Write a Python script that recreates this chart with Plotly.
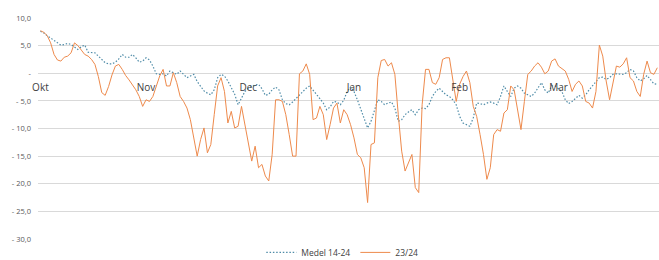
import pandas as pd
import plotly.graph_objects as go

start_date = "2023-10-01"

medel_14_24 = [
    7.6, 7.3, 6.8, 6.4, 6.0, 5.5, 5.1, 5.2, 5.4, 5.2,
    4.7, 4.3, 4.8, 5.1, 3.8, 3.7, 3.7, 3.1, 2.5, 1.9,
    1.7, 1.7, 2.0, 2.6, 3.4, 2.9, 2.9, 3.4, 2.8, 2.0,
    2.2, 2.8, 2.4, 1.3, -0.1, -0.2, -0.1, -0.5, 0.4, 0.1,
    -0.2, 0.4, -0.2, -0.8, -0.5, -0.2, -1.5, -2.3, -3.2, -3.6,
    -3.9, -3.0, -0.8, -0.2, -0.5, -1.4, -2.6, -3.8, -5.7, -4.4,
    -3.3, -2.7, -2.4, -2.1, -2.0, -2.8, -4.0, -3.8, -3.0, -2.5,
    -3.0, -4.8, -5.5, -5.7, -5.2, -4.6, -4.0, -3.3, -2.7, -2.3,
    -3.0, -3.9, -4.6, -5.4, -6.6, -6.1, -5.1, -5.2, -5.7, -4.9,
    -3.3, -2.5, -3.3, -4.8, -6.6, -8.4, -9.9, -8.7, -6.9, -4.8,
    -5.1, -5.7, -5.4, -5.2, -6.3, -8.7, -8.4, -7.5, -7.0, -6.6,
    -7.5, -6.6, -6.3, -6.4, -5.7, -4.2, -3.3, -2.7, -3.3, -3.9,
    -4.2, -4.8, -5.7, -7.8, -9.0, -9.3, -9.6, -8.1, -5.4, -5.5,
    -5.7, -5.4, -5.2, -5.4, -5.7, -4.2, -2.3, -3.3, -4.2, -2.7,
    -2.3, -2.7, -3.6, -3.9, -4.2, -3.6, -2.7, -1.7, -3.0, -3.6,
    -2.3, -2.3, -2.8, -3.3, -4.8, -5.5, -5.1, -4.5, -4.0, -4.5,
    -3.9, -3.0, -2.3, -1.7, -0.8, -0.7, -1.1, -0.8, -0.2, -0.1,
    -0.1, -0.2, 0.1, 0.7, 0.4, -0.8, -1.4, -1.0, -0.4, -1.1,
    -1.9, -2.0,
]

season_23_24 = [
    7.7, 7.4, 6.8, 5.5, 3.4, 2.4, 2.2, 2.9, 3.1, 3.7,
    5.5, 5.0, 4.2, 3.4, 3.1, 2.5, 1.6, -0.6, -3.5, -4.0,
    -2.4, -0.3, 1.3, 1.6, 0.7, -0.4, -1.2, -2.0, -3.0, -4.2,
    -6.0, -4.8, -5.1, -4.2, -2.3, -0.5, 0.7, -2.3, -2.3, 0.1,
    -1.7, -4.2, -5.1, -6.3, -8.4, -11.7, -15.0, -12.0, -9.9, -14.4,
    -12.9, -7.5, -2.3, -0.8, -3.3, -9.0, -6.9, -9.9, -9.6, -6.0,
    -9.3, -12.3, -15.9, -13.2, -17.1, -16.5, -18.6, -19.5, -14.7, -4.8,
    -4.8, -5.1, -7.5, -11.1, -15.0, -15.0, -0.1, 0.4, 1.7, -0.2,
    -8.4, -8.1, -6.0, -7.5, -12.0, -9.3, -6.3, -5.4, -9.0, -6.6,
    -7.5, -9.3, -11.7, -14.7, -15.3, -17.1, -23.4, -12.9, -12.6, -0.8,
    2.3, 2.5, 1.3, 1.9, -0.2, -7.5, -14.1, -17.7, -16.2, -14.7,
    -20.7, -21.6, -5.7, 0.7, 0.7, -1.7, -2.0, -0.8, 2.5, 2.8,
    2.8, -1.5, -5.1, -2.0, -0.6, 0.4, -1.7, -6.0, -7.8, -11.1,
    -14.7, -19.2, -17.1, -11.1, -10.2, -10.5, -7.2, -6.6, -2.3, -3.0,
    -6.9, -10.2, -5.1, -0.2, 0.4, 1.3, 1.9, 1.1, -0.1, 0.4,
    2.2, 2.6, 1.3, 0.8, 0.4, -1.1, -3.3, -2.0, -1.4, -2.3,
    -5.1, -5.4, -6.3, -3.3, 5.1, 3.1, -1.4, -4.8, -1.7, 1.3,
    1.1, 1.7, 2.8, -0.8, -1.4, -3.3, -4.2, -0.2, 2.2, 0.1,
    -0.2, 1.0,
]

month_ticks = ["2023-10-01", "2023-11-01", "2023-12-01", "2024-01-01", "2024-02-01", "2024-03-01"]
month_labels = ["Okt", "Nov", "Dec", "Jan", "Feb", "Mar"]

y_ticks = [10, 5, 0, -5, -10, -15, -20, -25, -30]
y_labels = ["10,0", "5,0", "-", "- 5,0", "- 10,0", "- 15,0", "- 20,0", "- 25,0", "- 30,0"]

dates = pd.date_range(start_date, periods=len(season_23_24), freq="D")

fig = go.Figure()
fig.add_trace(go.Scatter(
    x=dates, y=medel_14_24, mode="lines", name="Medel 14-24",
    line=dict(color="#4F8CA8", width=1.2, dash="1.5px,1.8px"),
))
fig.add_trace(go.Scatter(
    x=dates, y=season_23_24, mode="lines", name="23/24",
    line=dict(color="#EE8A4C", width=1.0),
))

fig.update_layout(
    width=659, height=260,
    margin=dict(l=38, r=0, t=18, b=21, autoexpand=False),
    plot_bgcolor="white", paper_bgcolor="white",
    font=dict(family="Open Sans, Liberation Sans, sans-serif", color="#595959"),
    showlegend=True,
    legend=dict(orientation="h", x=0.49, xanchor="center", y=0.005, yanchor="top",
                font=dict(size=8.5, color="#404040"), itemwidth=30,
                bgcolor="rgba(0,0,0,0)"),
    xaxis=dict(
        range=["2023-09-30 07:00", "2024-03-30 12:00"],
        tickmode="array", tickvals=month_ticks, ticktext=month_labels,
        anchor="free", position=0.75, showgrid=False, zeroline=False,
        showline=False, ticks="", tickfont=dict(size=10, color="#404040"),
        ticklabelstandoff=7, automargin=False,
    ),
    yaxis=dict(
        range=[-30, 10], tickmode="array", tickvals=y_ticks, ticktext=y_labels,
        showgrid=True, gridcolor="#D9D9D9", gridwidth=1, zeroline=False,
        showline=False, ticks="", tickfont=dict(size=7.5, color="#595959"),
        ticklabelstandoff=6, automargin=False,
    ),
)

fig.write_html(
    "out.html",
    config={"displayModeBar": False},
    post_script="document.body.style.margin='0';document.body.style.overflow='hidden';",
)
